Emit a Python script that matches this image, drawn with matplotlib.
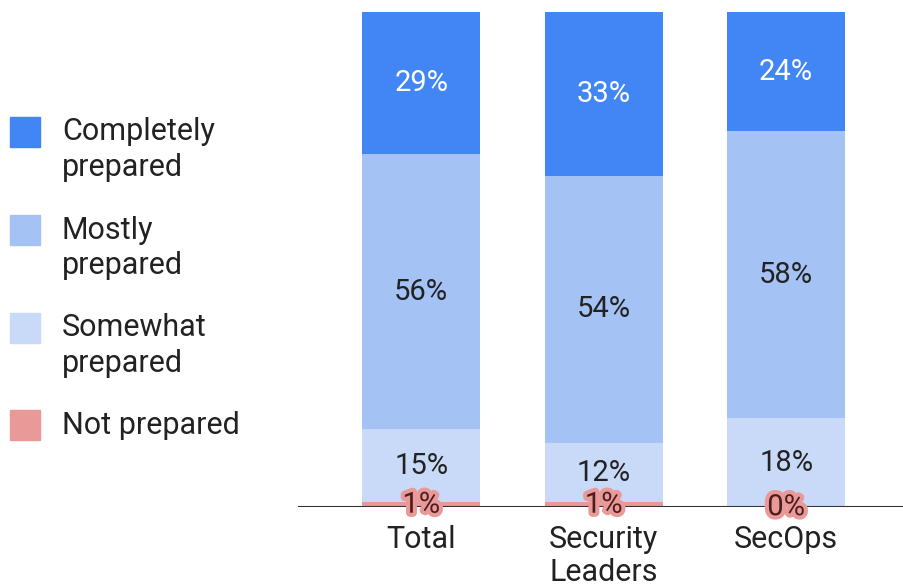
import matplotlib.pyplot as plt
import matplotlib.patheffects as pe
from matplotlib.patches import Rectangle
import numpy as np

plt.rcParams['font.family'] = ['Roboto', 'DejaVu Sans']

groups = ['Total', 'Security\nLeaders', 'SecOps']
series = ['Not prepared', 'Somewhat\nprepared', 'Mostly\nprepared', 'Completely\nprepared']
not_prepared = [1, 1, 0]
somewhat = [15, 12, 18]
mostly = [56, 54, 58]
completely = [29, 33, 24]
colors = ['#EA9999', '#C9DAF8', '#A4C2F4', '#4285F4']
text_colors = ['#4a1c1c', '#222222', '#222222', 'white']

values = np.array([not_prepared, somewhat, mostly, completely], dtype=float)
shares = values / values.sum(axis=0) * 100  # 100% stacked

fig = plt.figure(figsize=(9.04, 5.87), dpi=100)
ax = fig.add_axes([0.33, 0.136, 0.67, 0.843])

x = np.arange(len(groups))
bottom = np.zeros(len(groups))
for i in range(len(series)):
    ax.bar(x, shares[i], 0.647, bottom=bottom, color=colors[i], zorder=2)
    for j in range(len(groups)):
        y = bottom[j] + shares[i][j] / 2
        t = ax.text(x[j], y, f'{int(values[i][j])}%', ha='center', va='center',
                    fontsize=21, color=text_colors[i], zorder=5)
        if i == 0:
            t.set_path_effects([pe.withStroke(linewidth=6, foreground='#EA9999')])
    bottom += shares[i]

ax.axhline(0, color='#333333', linewidth=1.5, zorder=3)
ax.set_xlim(-0.674, 2.646)
ax.set_ylim(0, 100)
ax.set_xticks(x)
ax.set_xticklabels(groups, fontsize=22, color='#222222', linespacing=1.15)
ax.tick_params(axis='x', length=0, pad=13)
ax.set_yticks([])
for s in ax.spines.values():
    s.set_visible(False)

# legend drawn by hand on the left
W, H = 904, 587
sq_top = [117, 215, 313, 410]
leg_order = [3, 2, 1, 0]
for k, i in enumerate(leg_order):
    top = sq_top[k]
    fig.add_artist(Rectangle((10 / W, 1 - (top + 30) / H), 30 / W, 30 / H,
                             transform=fig.transFigure, color=colors[i]))
    for n, line in enumerate(series[i].split('\n')):
        fig.text(62 / W, 1 - (top + 15 + n * 36) / H, line, ha='left', va='center',
                 fontsize=22, color='#222222')

fig.savefig('out.png', dpi=100)
